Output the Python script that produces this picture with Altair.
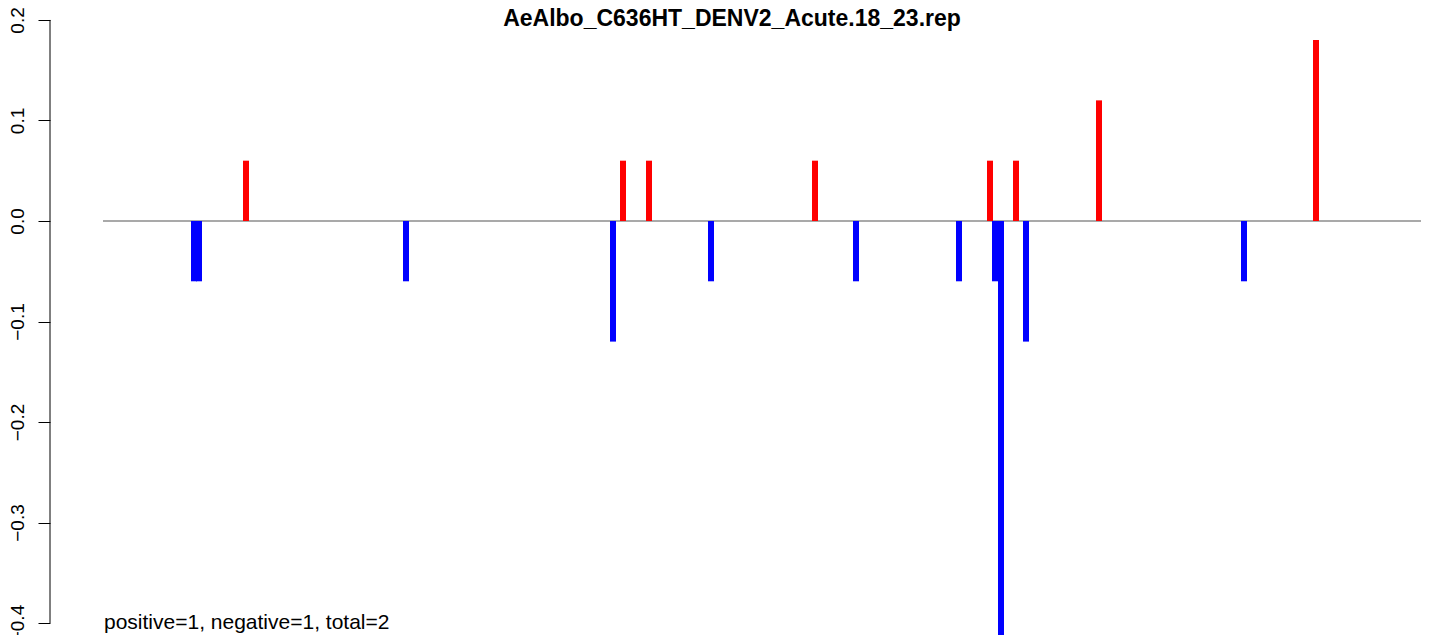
import altair as alt
import pandas as pd

# ---- data ----
title_text = "AeAlbo_C636HT_DENV2_Acute.18_23.rep"
summary_text = "positive=1, negative=1, total=2"

neg_pos = [144, 149, 356, 563, 661, 806, 909, 945, 951, 976, 1194]
neg_val = [-0.06, -0.06, -0.06, -0.12, -0.06, -0.06, -0.06, -0.06, -0.415, -0.12, -0.06]

pos_pos = [196, 573, 599, 765, 940, 966, 1049, 1266]
pos_val = [0.06, 0.06, 0.06, 0.06, 0.06, 0.06, 0.12, 0.18]

zero_line_start = 53
zero_line_end = 1379

y_ticks = [-0.4, -0.3, -0.2, -0.1, 0.0, 0.1, 0.2]

X_DOMAIN = [0, 1371]
Y_DOMAIN = [-0.4119, 0.2119]
W, H = 1371, 627

bars = pd.DataFrame(
    {
        "pos": neg_pos + pos_pos,
        "value": neg_val + pos_val,
        "sign": ["neg"] * len(neg_pos) + ["pos"] * len(pos_pos),
    }
)
zline = pd.DataFrame({"start": [zero_line_start], "end": [zero_line_end], "y": [0.0]})

xscale = alt.Scale(domain=X_DOMAIN, nice=False, zero=False)
yscale = alt.Scale(domain=Y_DOMAIN, nice=False, zero=False)

yaxis = alt.Axis(
    values=y_ticks,
    format=".1f",
    domain=False,
    grid=False,
    ticks=True,
    tickSize=12,
    tickColor="black",
    tickWidth=1,
    labelAngle=270,
    labelAlign="center",
    labelBaseline="alphabetic",
    labelPadding=15,
    labelFontSize=19,
    labelFont="Liberation Sans",
    labelColor="black",
    labelFlush=False,
    labelOverlap=False,
    title=None,
)

zero_rule = (
    alt.Chart(zline)
    .mark_rule(color="#A9A9A9", strokeWidth=2, clip=True)
    .encode(
        x=alt.X("start:Q", scale=xscale, axis=None),
        x2="end:Q",
        y=alt.Y("y:Q", scale=yscale, axis=yaxis),
    )
)

bar_layer = (
    alt.Chart(bars)
    .mark_rule(strokeWidth=6, strokeCap="butt", clip=True)
    .encode(
        x=alt.X("pos:Q", scale=xscale, axis=None),
        y=alt.Y("value:Q", scale=yscale, axis=yaxis),
        y2=alt.datum(0),
        color=alt.Color(
            "sign:N",
            scale=alt.Scale(domain=["neg", "pos"], range=["#0000FF", "#FF0000"]),
            legend=None,
        ),
    )
)

axis_line = (
    alt.Chart(pd.DataFrame({"lo": [min(y_ticks)], "hi": [max(y_ticks)]}))
    .mark_rule(color="black", strokeWidth=1)
    .encode(
        x=alt.value(0),
        y=alt.Y("lo:Q", scale=yscale, axis=yaxis),
        y2="hi:Q",
    )
)

title_layer = (
    alt.Chart(pd.DataFrame({"t": [title_text]}))
    .mark_text(
        font="Liberation Sans",
        fontSize=23,
        fontWeight="bold",
        align="center",
        baseline="alphabetic",
        color="black",
    )
    .encode(text="t:N", x=alt.value(682), y=alt.value(18))
)

summary_layer = (
    alt.Chart(pd.DataFrame({"t": [summary_text]}))
    .mark_text(
        font="Liberation Sans",
        fontSize=21,
        align="left",
        baseline="alphabetic",
        color="black",
    )
    .encode(text="t:N", x=alt.value(54), y=alt.value(621))
)

chart = (
    alt.layer(zero_rule, bar_layer, axis_line, title_layer, summary_layer)
    .properties(
        width=W,
        height=H,
        padding={"left": 42, "top": 0, "right": 0, "bottom": 0},
        autosize=alt.AutoSizeParams(type="none"),
        background="white",
    )
    .configure_view(stroke=None)
)

chart.save("out.html", embed_options={"renderer": "svg", "actions": False})
